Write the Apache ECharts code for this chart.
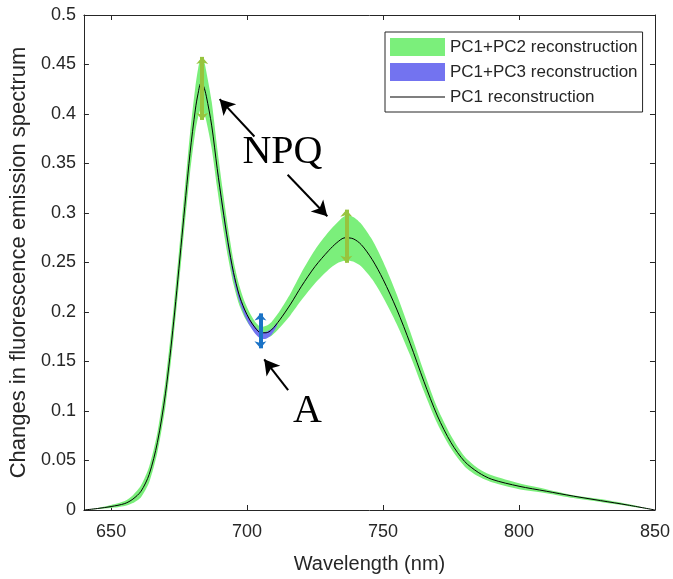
<!DOCTYPE html>
<html>
<head>
<meta charset="utf-8">
<script src="https://cdn.jsdelivr.net/npm/echarts@6/dist/echarts.min.js"></script>
<style>
  html, body { margin: 0; padding: 0; background: #fff; }
  #chart { width: 673px; height: 579px; }
</style>
</head>
<body>
<div id="chart"></div>
<script>
// Emission spectrum sampled in nm
const wavelength = [640, 645, 650, 655, 658, 661, 664, 667, 670, 673, 676, 679, 681, 682, 683, 684, 685, 687, 689, 691, 693, 695, 697, 699, 701, 703, 705, 707, 709, 712, 716, 720, 725, 730, 733, 736, 739, 742, 746, 750, 755, 760, 765, 770, 775, 780, 785, 790, 800, 810, 820, 830, 840, 850];
// PC1 reconstruction
const pc1 = [0, 0.0015, 0.0035, 0.0065, 0.011, 0.019, 0.036, 0.068, 0.118, 0.19, 0.275, 0.36, 0.405, 0.421, 0.431, 0.428, 0.418, 0.388, 0.345, 0.306, 0.27, 0.24, 0.218, 0.203, 0.192, 0.184, 0.179, 0.179, 0.182, 0.192, 0.208, 0.226, 0.246, 0.262, 0.27, 0.275, 0.274, 0.268, 0.253, 0.233, 0.203, 0.168, 0.13, 0.095, 0.068, 0.049, 0.038, 0.031, 0.024, 0.019, 0.014, 0.0095, 0.005, 0];
// PC1+PC2 reconstruction envelope
const pc2Low = [0, 0.001, 0.002, 0.004, 0.007, 0.013, 0.028, 0.058, 0.105, 0.175, 0.258, 0.34, 0.383, 0.397, 0.405, 0.402, 0.393, 0.365, 0.325, 0.288, 0.255, 0.228, 0.208, 0.195, 0.186, 0.179, 0.174, 0.174, 0.176, 0.184, 0.197, 0.212, 0.229, 0.243, 0.249, 0.252, 0.251, 0.246, 0.233, 0.215, 0.188, 0.156, 0.12, 0.087, 0.062, 0.044, 0.034, 0.028, 0.021, 0.017, 0.012, 0.008, 0.004, 0];
const pc2High = [0, 0.002, 0.005, 0.009, 0.015, 0.025, 0.044, 0.078, 0.131, 0.205, 0.292, 0.38, 0.428, 0.446, 0.457, 0.455, 0.443, 0.412, 0.366, 0.324, 0.285, 0.252, 0.228, 0.211, 0.199, 0.19, 0.185, 0.186, 0.19, 0.201, 0.219, 0.24, 0.263, 0.281, 0.29, 0.297, 0.296, 0.289, 0.273, 0.251, 0.218, 0.18, 0.14, 0.103, 0.075, 0.054, 0.042, 0.035, 0.027, 0.021, 0.015, 0.011, 0.006, 0];
// PC1+PC3 reconstruction envelope (visible around the dip)
const pc3Wavelength = [689, 691, 693, 695, 697, 699, 701, 703, 705, 707, 709, 711];
const pc3Low = [0.343, 0.302, 0.265, 0.234, 0.212, 0.197, 0.186, 0.178, 0.173, 0.173, 0.177, 0.186];
const pc3High = [0.347, 0.307, 0.271, 0.241, 0.219, 0.204, 0.193, 0.185, 0.180, 0.180, 0.183, 0.189];

const xTicks = [650, 700, 750, 800, 850];

// Range markers: NPQ at the two peaks, A at the dip
const npqRangeX = [683.5, 736.5];
const npqRangeLow = [0.394, 0.2497];
const npqRangeHigh = [0.4577, 0.3034];
const dipRangeX = 704.9;
const dipRangeLow = 0.1633;
const dipRangeHigh = 0.1986;

// Pointer arrows [tail, head]
const npqPointers = [
  [[702.7, 0.3773], [689.9, 0.415]],
  [[714.9, 0.3387], [729.5, 0.2967]]
];
const dipPointer = [[715.1, 0.121], [706.3, 0.1522]];
const npqLabelAt = [713.0, 0.3614];
const dipLabelAt = [722.2, 0.0993];

const AXIS = '#262626';
const SANS = 'Liberation Sans, Arial, sans-serif';
const SERIF = 'Liberation Serif, Times New Roman, serif';
const GREEN = '#7bef7b';
const BLUE = '#7373f0';
const RANGE_GREEN = '#97c43e';
const RANGE_BLUE = '#1b73c6';
// thin horizontal stroke centred in a 55x18 legend swatch box
const LINE_ICON = 'path://M0,0H55V0H0Z M0,8.5H55V9.5H0Z M0,18H55V18H0Z';

function bandSeries(name, xs, lo, hi, color, z) {
  return {
    type: 'custom',
    name: name,
    z: z,
    silent: true,
    animation: false,
    itemStyle: { color: color },
    encode: { x: 0, y: 1 },
    data: [[xs[0], lo[0]]],
    renderItem: function (params, api) {
      const pts = [];
      for (let i = 0; i < xs.length; i++) pts.push(api.coord([xs[i], hi[i]]));
      for (let i = xs.length - 1; i >= 0; i--) pts.push(api.coord([xs[i], lo[i]]));
      return { type: 'polygon', shape: { points: pts, smooth: 0.25 }, style: { fill: color } };
    }
  };
}

function rangeMarker(x, lo, hi, color) {
  return [
    { coord: [x, lo], symbol: 'arrow', symbolSize: [9, 7], lineStyle: { color: color, width: 4, type: 'solid' } },
    { coord: [x, hi], symbol: 'arrow', symbolSize: [9, 7] }
  ];
}
function pointer(p) {
  return [
    { coord: p[0], symbol: 'none', lineStyle: { color: '#000', width: 2, type: 'solid' } },
    { coord: p[1], symbol: 'arrow', symbolSize: [13, 15] }
  ];
}

const markLines = [];
for (let i = 0; i < npqRangeX.length; i++) {
  markLines.push(rangeMarker(npqRangeX[i], npqRangeLow[i], npqRangeHigh[i], RANGE_GREEN));
}
markLines.push(rangeMarker(dipRangeX, dipRangeLow, dipRangeHigh, RANGE_BLUE));
npqPointers.forEach(p => markLines.push(pointer(p)));
markLines.push(pointer(dipPointer));

const axisCommon = {
  type: 'value',
  min: 640,
  max: 850,
  splitLine: { show: false },
  axisLine: { show: true, onZero: false, lineStyle: { color: AXIS, width: 1 } },
  axisTick: { show: true, inside: true, length: 5, customValues: xTicks, lineStyle: { color: AXIS } }
};
const yCommon = {
  type: 'value',
  min: 0,
  max: 0.5,
  interval: 0.05,
  splitLine: { show: false },
  axisLine: { show: true, onZero: false, lineStyle: { color: AXIS, width: 1 } },
  axisTick: { show: true, inside: true, length: 5, lineStyle: { color: AXIS } }
};

const chart = echarts.init(document.getElementById('chart'), null, { renderer: 'canvas' });
chart.setOption({
  animation: false,
  backgroundColor: '#fff',
  grid: { left: 82, right: 17, top: 15, bottom: 68, containLabel: false },
  legend: {
    left: 385,
    top: 32,
    orient: 'vertical',
    padding: [6, 5, 6, 5],
    itemGap: 7,
    itemWidth: 55,
    itemHeight: 18,
    symbolKeepAspect: false,
    borderColor: AXIS,
    borderWidth: 1,
    backgroundColor: '#fff',
    selectedMode: false,
    textStyle: { fontFamily: SANS, fontSize: 17, color: AXIS },
    data: [
      { name: 'PC1+PC2 reconstruction', icon: 'rect', itemStyle: { color: GREEN } },
      { name: 'PC1+PC3 reconstruction', icon: 'rect', itemStyle: { color: BLUE } },
      { name: 'PC1 reconstruction', icon: LINE_ICON, itemStyle: { color: '#000', borderWidth: 0 } }
    ]
  },
  xAxis: [
    Object.assign({}, axisCommon, {
      position: 'bottom',
      name: 'Wavelength (nm)',
      nameLocation: 'middle',
      nameGap: 44,
      nameTextStyle: { fontFamily: SANS, fontSize: 20, color: AXIS },
      axisLabel: { customValues: xTicks, fontFamily: SANS, fontSize: 18, color: AXIS, margin: 13 }
    }),
    Object.assign({}, axisCommon, {
      position: 'top',
      axisLabel: { show: false }
    })
  ],
  yAxis: [
    Object.assign({}, yCommon, {
      position: 'left',
      name: 'Changes in fluorescence emission spectrum',
      nameLocation: 'middle',
      nameGap: 50,
      nameTextStyle: { fontFamily: SANS, fontSize: 22, color: AXIS },
      axisLabel: {
        fontFamily: SANS, fontSize: 18, color: AXIS, margin: 8,
        formatter: v => String(+v.toFixed(2))
      }
    }),
    Object.assign({}, yCommon, {
      position: 'right',
      axisLabel: { show: false }
    })
  ],
  series: [
    bandSeries('PC1+PC2 reconstruction', wavelength, pc2Low, pc2High, GREEN, 1),
    bandSeries('PC1+PC3 reconstruction', pc3Wavelength, pc3Low, pc3High, BLUE, 2),
    {
      type: 'line',
      name: 'PC1 reconstruction',
      z: 3,
      data: wavelength.map((w, i) => [w, pc1[i]]),
      symbol: 'none',
      smooth: 0.3,
      lineStyle: { color: '#000', width: 1 },
      itemStyle: { color: '#000' },
      markLine: {
        silent: true,
        animation: false,
        label: { show: false },
        emphasis: { disabled: true },
        data: markLines
      },
      markPoint: {
        silent: true,
        animation: false,
        data: [
          {
            coord: npqLabelAt, symbol: 'circle', symbolSize: 0,
            label: { show: true, position: 'inside', formatter: 'NPQ', fontFamily: SERIF, fontSize: 40, color: '#000' }
          },
          {
            coord: dipLabelAt, symbol: 'circle', symbolSize: 0,
            label: { show: true, position: 'inside', formatter: 'A', fontFamily: SERIF, fontSize: 40, color: '#000' }
          }
        ]
      }
    }
  ]
});
</script>
</body>
</html>
